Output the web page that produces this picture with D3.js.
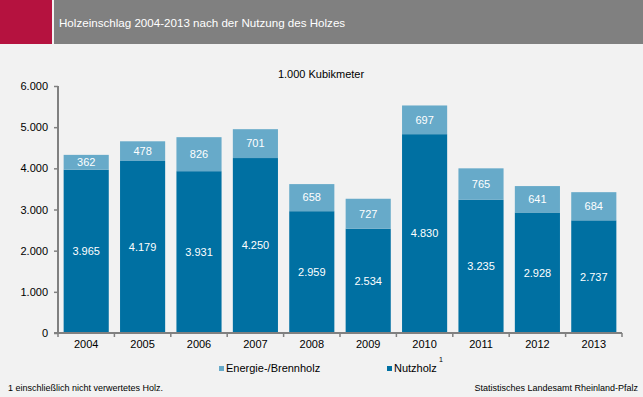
<!DOCTYPE html>
<html><head><meta charset="utf-8">
<script src="https://cdn.jsdelivr.net/npm/d3@7"></script>
<style>
html,body{margin:0;padding:0;background:#f2f2f2;}
svg{display:block;font-family:"Liberation Sans",Arial,sans-serif;}
</style></head>
<body>
<script>
const years = ["2004","2005","2006","2007","2008","2009","2010","2011","2012","2013"];
const nutzholz = [3965,4179,3931,4250,2959,2534,4830,3235,2928,2737];
const energie = [362,478,826,701,658,727,697,765,641,684];
const yTicks = [0,1000,2000,3000,4000,5000,6000];
const seriesNames = ["Energie-/Brennholz","Nutzholz"];

const W=643,H=397;
const svg=d3.select("body").append("svg").attr("width",W).attr("height",H);
svg.append("rect").attr("width",W).attr("height",H).attr("fill","#f2f2f2");
// header
svg.append("rect").attr("x",0).attr("y",0).attr("width",52).attr("height",44).attr("fill","#b5123f");
svg.append("rect").attr("x",54).attr("y",0).attr("width",W-54).attr("height",44).attr("fill","#808080");
svg.append("text").attr("x",59).attr("y",27).attr("fill","#fff").attr("font-size","11.6px")
  .text("Holzeinschlag 2004-2013 nach der Nutzung des Holzes");
svg.append("text").attr("x",321).attr("y",78).attr("text-anchor","middle").attr("font-size","11px").attr("fill","#000")
  .text("1.000 Kubikmeter");

const fmt = d3.formatLocale({decimal:",",thousands:".",grouping:[3],currency:["","€"]}).format(",");
const x=d3.scaleBand().domain(years).range([58,622]).paddingInner(0.2).paddingOuter(0.1);
const y=d3.scaleLinear().domain([0,6000]).range([333,86]);
const cDark="#0070a2", cLight="#67aac9";

const g=svg.append("g");
years.forEach((yr,i)=>{
  const n=nutzholz[i], e=energie[i];
  g.append("rect").attr("x",x(yr)).attr("width",x.bandwidth()).attr("y",y(n)).attr("height",y(0)-y(n)).attr("fill",cDark);
  g.append("rect").attr("x",x(yr)).attr("width",x.bandwidth()).attr("y",y(n+e)).attr("height",y(n)-y(n+e)).attr("fill",cLight);
  g.append("text").attr("x",x(yr)+x.bandwidth()/2).attr("y",(y(0)+y(n))/2).attr("dy","0.35em")
    .attr("text-anchor","middle").attr("fill","#fff").attr("font-size","11px").text(fmt(n));
  g.append("text").attr("x",x(yr)+x.bandwidth()/2).attr("y",(y(n)+y(n+e))/2).attr("dy","0.35em")
    .attr("text-anchor","middle").attr("fill","#fff").attr("font-size","11px").text(fmt(e));
});

// y axis
const ya=svg.append("g").attr("transform","translate(58,0)")
  .call(d3.axisLeft(y).tickValues(yTicks).tickFormat(fmt).tickSize(4).tickPadding(6));
ya.select(".domain").attr("stroke","#808080").attr("stroke-width",2).attr("d","M0,86V334");
ya.selectAll(".tick line").attr("stroke","#808080").attr("stroke-width",1.5);
ya.selectAll("text").attr("font-size","11px").attr("fill","#000").attr("font-family","Liberation Sans,Arial,sans-serif");

// x axis
const xa=svg.append("g").attr("transform","translate(0,333)")
  .call(d3.axisBottom(x).tickSize(0).tickPadding(7));
xa.select(".domain").attr("stroke","#808080").attr("stroke-width",2).attr("d","M54,0H622");
xa.selectAll("text").attr("font-size","11px").attr("fill","#000").attr("font-family","Liberation Sans,Arial,sans-serif");
const step=x.step();
const bounds=d3.range(years.length+1).map(i=>58+i*step);
xa.selectAll(".bt").data(bounds).enter().append("line").attr("class","bt")
  .attr("x1",d=>d).attr("x2",d=>d).attr("y1",0).attr("y2",4).attr("stroke","#808080").attr("stroke-width",1.5);

// legend
const leg=[{name:seriesNames[0],c:cLight,x:219},{name:seriesNames[1],c:cDark,x:387}];
leg.forEach(l=>{
  svg.append("rect").attr("x",l.x).attr("y",366).attr("width",5).attr("height",5).attr("fill",l.c);
  svg.append("text").attr("x",l.x+7).attr("y",372).attr("font-size","11px").attr("fill","#000").text(l.name);
});
svg.append("text").attr("x",439).attr("y",362).attr("font-size","7px").attr("fill","#000").text("1");

// footer
svg.append("text").attr("x",8).attr("y",391).attr("font-size","9px").attr("fill","#000").text("1 einschließlich nicht verwertetes Holz.");
svg.append("text").attr("x",638).attr("y",391).attr("text-anchor","end").attr("font-size","9px").attr("fill","#000").text("Statistisches Landesamt Rheinland-Pfalz");
</script>
</body></html>
